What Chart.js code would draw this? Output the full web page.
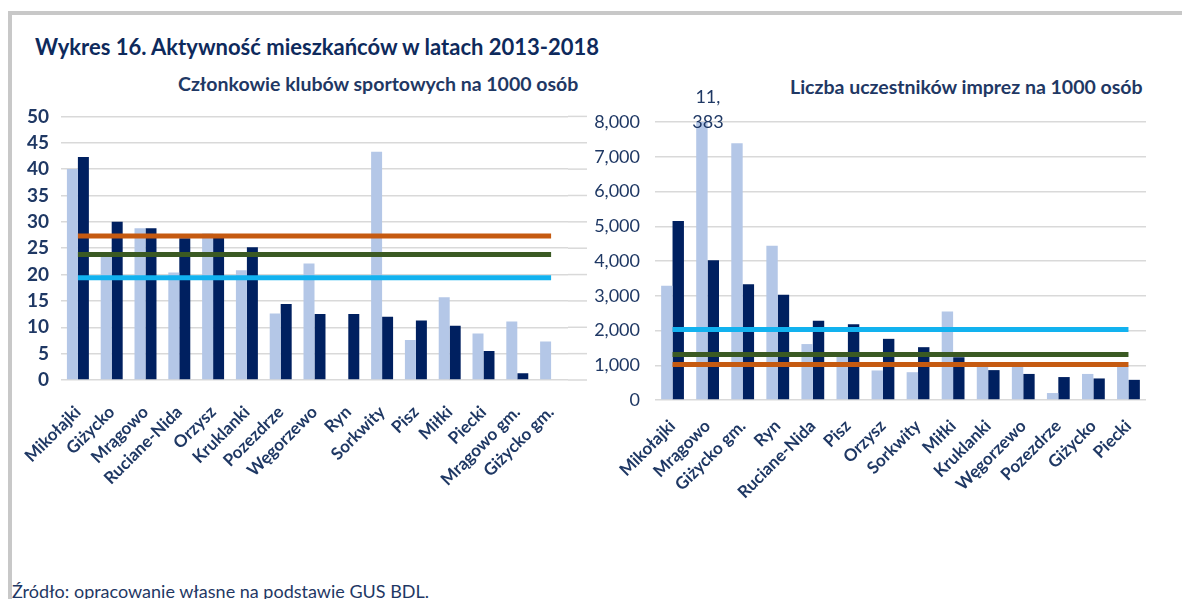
<!DOCTYPE html>
<html lang="pl">
<head>
<meta charset="utf-8">
<script src="https://cdn.jsdelivr.net/npm/chart.js@4"></script>
<style>
  body { margin: 0; width: 1182px; height: 599px; overflow: hidden; background: #fff; font-family: Lato, "Open Sans", sans-serif; position: relative; }
  .frame-top { position: absolute; left: 8px; top: 11px; width: 1174px; height: 4px; background: #c8c8c8; }
  .frame-left { position: absolute; left: 8px; top: 11px; width: 4px; height: 588px; background: #c8c8c8; }
  .title { position: absolute; left: 35px; top: 33px; font-size: 22px; font-weight: bold; color: #0e2a5c; white-space: nowrap; }
  .sub { position: absolute; font-size: 19.5px; font-weight: bold; color: #1f3864; white-space: nowrap; }
  .src { position: absolute; left: 12px; top: 580px; font-size: 18px; color: #1f3864; white-space: nowrap; }
  .box { position: absolute; }
</style>
</head>
<body>
<div class="frame-top"></div>
<div class="frame-left"></div>
<div class="title">Wykres 16. Aktywność mieszkańców w latach 2013-2018</div>
<div class="sub" style="left:178px; top:72px;">Członkowie klubów sportowych na 1000 osób</div>
<div class="sub" style="left:790px; top:75px;">Liczba uczestników imprez na 1000 osób</div>
<div class="box" style="left:10px; top:93px; width:590px; height:410px;"><canvas id="clubsChart"></canvas></div>
<div class="box" style="left:590px; top:70px; width:580px; height:440px;"><canvas id="eventsChart"></canvas></div>
<div class="src">Źródło: opracowanie własne na podstawie GUS BDL.</div>

<script>
// członkowie klubów sportowych na 1000 osób
const clubTowns = ["Mikołajki", "Giżycko", "Mrągowo", "Ruciane-Nida", "Orzysz", "Kruklanki", "Pozezdrze",
    "Węgorzewo", "Ryn", "Sorkwity", "Pisz", "Miłki", "Piecki", "Mrągowo gm.", "Giżycko gm."];
const clubs2013 = [40, 23.5, 28.8, 20.4, 27.8, 20.8, 12.6, 22.1, 0, 43.3, 7.6, 15.7, 8.8, 11.1, 7.3];
const clubs2018 = [42.3, 30, 28.8, 26.9, 27, 25.2, 14.4, 12.5, 12.5, 12, 11.3, 10.3, 5.5, 1.3, 0];
const clubsRefA = 27.3;   // pomarańczowa
const clubsRefB = 23.8;   // zielona
const clubsRefC = 19.4;   // niebieska
const clubTicks = [0, 5, 10, 15, 20, 25, 30, 35, 40, 45, 50];

// uczestnicy imprez na 1000 osób
const eventTowns = ["Mikołajki", "Mrągowo", "Giżycko gm.", "Ryn", "Ruciane-Nida", "Pisz", "Orzysz",
    "Sorkwity", "Miłki", "Kruklanki", "Węgorzewo", "Pozezdrze", "Giżycko", "Piecki"];
const events2013 = [3290, 11383, 7390, 4440, 1610, 1250, 850, 800, 2550, 960, 960, 200, 750, 980];
const events2018 = [5150, 4020, 3330, 3030, 2280, 2180, 1760, 1520, 1230, 860, 750, 660, 620, 580];
const eventsRefA = 1025;  // pomarańczowa
const eventsRefB = 1310;  // zielona
const eventsRefC = 2030;  // niebieska
const eventTicks = [0, 1000, 2000, 3000, 4000, 5000, 6000, 7000, 8000];

const NAVY = "#1f3864";
const LIGHT = "#b4c7e7";
const DARK = "#002060";
const GRID = "#d9d9d9";

function flat(v, n) {
    return new Array(n).fill(v);
}

function buildDatasets(light, dark, refA, refB, refC, n) {
    const line = (label, v, color) => ({
        type: "line", label: label, data: flat(v, n), borderColor: color, backgroundColor: color,
        borderWidth: 5, pointRadius: 0, order: 0, tension: 0
    });
    return [
        { label: "2013", data: light, backgroundColor: LIGHT, categoryPercentage: 0.65, barPercentage: 1, order: 1 },
        { label: "2018", data: dark, backgroundColor: DARK, categoryPercentage: 0.65, barPercentage: 1, order: 1 },
        line("ref A", refA, "#c55a11"),
        line("ref B", refB, "#3b5a23"),
        line("ref C", refC, "#12b2ef")
    ];
}

function xAxis(height, pad) {
    return {
        grid: { display: false, drawTicks: false },
        border: { display: false },
        ticks: {
            autoSkip: false, minRotation: 45, maxRotation: 45, padding: pad,
            color: NAVY, font: { family: "Lato", size: 17, weight: "bold" }
        },
        afterFit: (s) => {
            s.height = height;
            // obszar wykresu ustawiamy sami, bez dosuwania pod obrócone etykiety
            s.paddingLeft = 0;
            s.paddingRight = 0;
        }
    };
}

// linie siatki lewego wykresu sięgają dalej niż ostatnia kategoria
const gridTail = {
    id: "gridTail",
    beforeDatasetsDraw(chart) {
        const y = chart.scales.y;
        const ctx = chart.ctx;
        const right = chart.chartArea.right;
        ctx.save();
        ctx.strokeStyle = GRID;
        ctx.lineWidth = 1.5;
        y.ticks.forEach((t) => {
            const py = y.getPixelForValue(t.value);
            ctx.beginPath();
            ctx.moveTo(right, py);
            ctx.lineTo(right + 19, py);
            ctx.stroke();
        });
        ctx.restore();
    }
};

// etykieta "11,\n383" nad uciętym słupkiem
const overflowLabel = {
    id: "overflowLabel",
    afterDatasetsDraw(chart) {
        const y = chart.scales.y;
        const meta = chart.getDatasetMeta(0);
        const ctx = chart.ctx;
        ctx.save();
        ctx.font = "18px Lato";
        ctx.fillStyle = NAVY;
        ctx.textAlign = "center";
        ctx.textBaseline = "middle";
        events2013.forEach((v, i) => {
            if (v > y.max) {
                const x = meta.data[i].x + 6;
                const top = y.getPixelForValue(y.max);
                const txt = v.toLocaleString("en-US").split(",");
                ctx.fillText(txt[0] + ",", x, top - 25);
                ctx.fillText(txt[1], x, top);
            }
        });
        ctx.restore();
    }
};

function initializeCharts() {
    new Chart(document.getElementById("clubsChart"), {
        type: "bar",
        data: { labels: clubTowns, datasets: buildDatasets(clubs2013, clubs2018, clubsRefA, clubsRefB, clubsRefC, clubTowns.length) },
        options: {
            responsive: true, maintainAspectRatio: false, animation: false,
            layout: { padding: { top: 21, right: 32, left: 0, bottom: 0 } },
            plugins: { legend: { display: false }, tooltip: { enabled: false } },
            scales: {
                x: xAxis(123, 22),
                y: {
                    min: 0, max: 50,
                    afterBuildTicks: (s) => { s.ticks = clubTicks.map(v => ({ value: v })); },
                    grid: { color: GRID, lineWidth: 1.5, drawTicks: false },
                    border: { display: false },
                    ticks: { padding: 12, color: NAVY, font: { family: "Lato", size: 19, weight: "bold" } },
                    afterFit: (s) => { s.width = 51; }
                }
            }
        },
        plugins: [gridTail]
    });

    new Chart(document.getElementById("eventsChart"), {
        type: "bar",
        data: { labels: eventTowns, datasets: buildDatasets(events2013, events2018, eventsRefA, eventsRefB, eventsRefC, eventTowns.length) },
        options: {
            responsive: true, maintainAspectRatio: false, animation: false,
            layout: { padding: { top: 52, right: 24, left: 0, bottom: 0 } },
            plugins: { legend: { display: false }, tooltip: { enabled: false } },
            scales: {
                x: xAxis(110, 16),
                y: {
                    min: 0, max: 8000,
                    afterBuildTicks: (s) => { s.ticks = eventTicks.map(v => ({ value: v })); },
                    grid: { color: GRID, lineWidth: 1.5, drawTicks: false },
                    border: { display: false },
                    ticks: {
                        padding: 15, color: NAVY, font: { family: "Lato", size: 18 },
                        callback: (v) => v.toLocaleString("en-US")
                    },
                    afterFit: (s) => { s.width = 65; }
                }
            }
        },
        plugins: [overflowLabel]
    });
}

document.addEventListener("DOMContentLoaded", initializeCharts);
</script>
</body>
</html>
